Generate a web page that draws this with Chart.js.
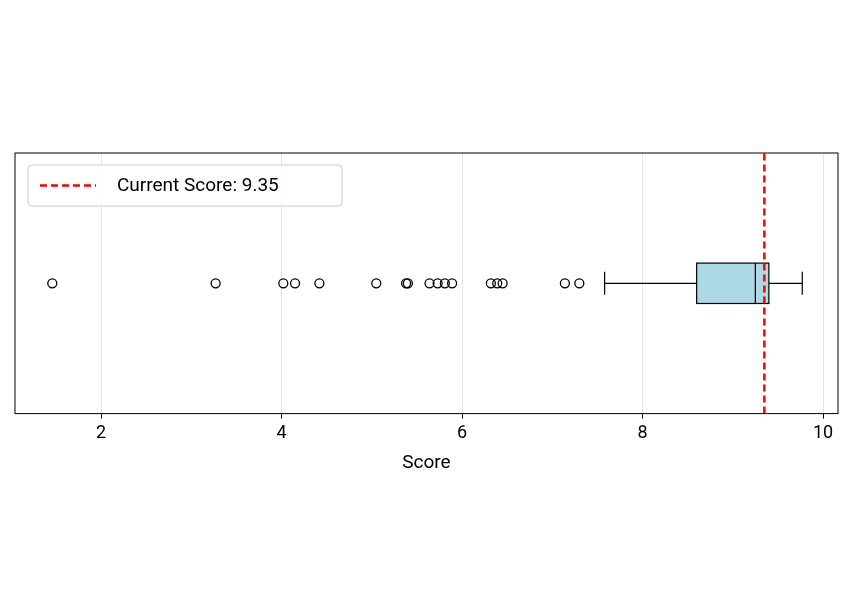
<!DOCTYPE html>
<html lang="en">
<head>
<meta charset="UTF-8">
<script src="https://cdn.jsdelivr.net/npm/chart.js"></script>
<style>
  body { margin: 0; background: #fff; }
  #wrap { width: 854px; height: 597px; }
</style>
</head>
<body>
<div id="wrap"><canvas id="c"></canvas></div>
<script>
// values
const outliers = [1.46, 3.27, 4.02, 4.15, 4.42, 5.05, 5.38, 5.40, 5.64, 5.73, 5.81, 5.89, 6.32, 6.39, 6.45, 7.14, 7.30];
const whiskerLow = 7.58;
const q1 = 8.60;
const median = 9.25;
const q3 = 9.40;
const whiskerHigh = 9.77;
const currentScore = 9.35;
const xTicks = [2, 4, 6, 8, 10];

const FONT = 'Roboto, "DejaVu Sans", sans-serif';
const boxHalf = 0.155, capHalf = 0.088;

const boxPlugin = {
  id: 'box',
  beforeDatasetsDraw(chart) {
    const { ctx, scales: { x, y } } = chart;
    ctx.save();
    ctx.fillStyle = '#add8e6';
    ctx.strokeStyle = '#000';
    ctx.lineWidth = 1.2;
    const l = x.getPixelForValue(q1), r = x.getPixelForValue(q3);
    const t = y.getPixelForValue(boxHalf), b = y.getPixelForValue(-boxHalf);
    ctx.fillRect(l, t, r - l, b - t);
    ctx.strokeRect(l, t, r - l, b - t);
    ctx.restore();
  },
  afterDraw(chart) {
    const { ctx, chartArea: a } = chart;
    ctx.save();
    ctx.strokeStyle = '#000';
    ctx.lineWidth = 1;
    ctx.strokeRect(a.left, a.top, a.right - a.left, a.bottom - a.top);
    // legend
    const lx = a.left + 13, ly = a.top + 12, w = 314, h = 41;
    ctx.fillStyle = 'rgba(255,255,255,0.85)';
    ctx.strokeStyle = '#ccc';
    ctx.beginPath();
    ctx.roundRect(lx, ly, w, h, 4);
    ctx.fill(); ctx.stroke();
    ctx.strokeStyle = 'red';
    ctx.lineWidth = 2.5;
    ctx.setLineDash([7, 4]);
    ctx.beginPath();
    ctx.moveTo(lx + 12, ly + h / 2);
    ctx.lineTo(lx + 68, ly + h / 2);
    ctx.stroke();
    ctx.setLineDash([]);
    ctx.fillStyle = '#000';
    ctx.font = '19px ' + FONT;
    ctx.textBaseline = 'middle';
    ctx.fillText('Current Score: ' + currentScore.toFixed(2), lx + 89, ly + h / 2 + 1);
    ctx.restore();
  }
};

const seg = (x0, y0, x1, y1) => [{ x: x0, y: y0 }, { x: x1, y: y1 }];
const lineDs = (data, extra) => Object.assign({
  type: 'line', data, borderColor: '#000', borderWidth: 1.2, pointRadius: 0, showLine: true
}, extra || {});

new Chart(document.getElementById('c'), {
  type: 'scatter',
  data: {
    datasets: [
      { data: outliers.map(v => ({ x: v, y: 0 })), pointRadius: 4.5, borderColor: '#000',
        backgroundColor: 'rgba(0,0,0,0)', borderWidth: 1.3 },
      lineDs(seg(whiskerLow, 0, q1, 0)),
      lineDs(seg(q3, 0, whiskerHigh, 0)),
      lineDs(seg(whiskerLow, -capHalf, whiskerLow, capHalf)),
      lineDs(seg(whiskerHigh, -capHalf, whiskerHigh, capHalf)),
      lineDs(seg(median, -boxHalf, median, boxHalf)),
      lineDs(seg(currentScore, -1, currentScore, 1), { borderColor: 'red', borderWidth: 2.5, borderDash: [7, 4] })
    ]
  },
  options: {
    responsive: true,
    maintainAspectRatio: false,
    animation: false,
    layout: { padding: { left: 15, right: 16, top: 153, bottom: 118 } },
    plugins: { legend: { display: false }, tooltip: { enabled: false } },
    scales: {
      x: {
        type: 'linear', min: 1.047, max: 10.166,
        afterBuildTicks: s => { s.ticks = xTicks.map(v => ({ value: v })); },
        grid: { color: '#e6e6e6', drawTicks: true, tickLength: 5, tickColor: '#000' },
        border: { display: false },
        ticks: { color: '#000', font: { size: 18, family: FONT }, padding: 4 },
        title: { display: true, text: 'Score', color: '#000', font: { size: 19, family: FONT } }
      },
      y: { type: 'linear', min: -1, max: 1, display: false }
    }
  },
  plugins: [boxPlugin]
});
</script>
</body>
</html>
